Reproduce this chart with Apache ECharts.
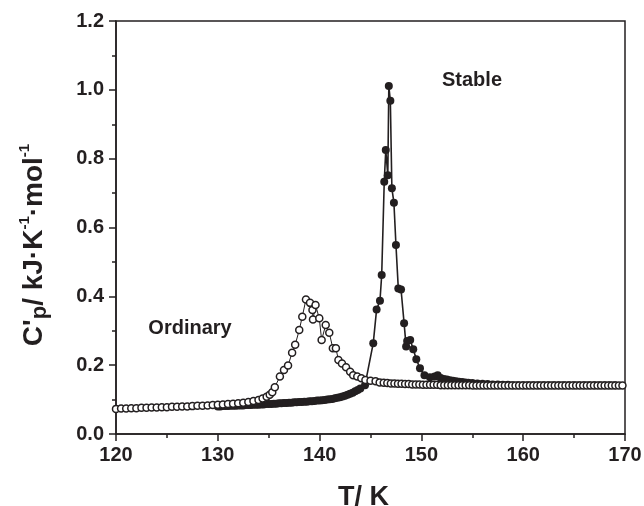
<!DOCTYPE html>
<html><head><meta charset="utf-8">
<script src="https://cdn.jsdelivr.net/npm/echarts@6/dist/echarts.min.js"></script>
<style>html,body{margin:0;padding:0;background:#fff}#c{width:644px;height:506px}</style>
</head><body><div id="c"></div>
<script>
// Ordinary (open circles)
var ordT = [120.0,120.5,121.0,121.5,122.0,122.5,123.0,123.5,124.0,124.5,125.0,125.5,126.0,126.5,127.0,127.5,128.0,128.5,129.0,129.5,130.0,130.5,131.0,131.5,132.0,132.5,133.0,133.5,134.0,134.4,134.8,135.1,135.35,135.6,136.1,136.5,136.9,137.3,137.6,138.0,138.3,138.66,139.06,139.3,139.35,139.6,139.97,140.2,140.6,140.95,141.3,141.6,141.85,142.2,142.6,143.0,143.3,143.7,144.1,144.5,145.0,145.5,145.9,146.3,146.65,147.0,147.35,147.7,148.05,148.4,148.75,149.1,149.45,149.8,150.15,150.5,150.85,151.2,151.55,151.9,152.25,152.6,152.95,153.3,153.65,154.0,154.35,154.7,155.05,155.4,155.75,156.1,156.45,156.8,157.15,157.5,157.85,158.2,158.55,158.9,159.25,159.6,159.95,160.3,160.65,161.0,161.35,161.7,162.05,162.4,162.75,163.1,163.45,163.8,164.15,164.5,164.85,165.2,165.55,165.9,166.25,166.6,166.95,167.3,167.65,168.0,168.35,168.7,169.05,169.4,169.75];
var ordC = [0.073,0.074,0.074,0.075,0.075,0.076,0.076,0.077,0.077,0.078,0.078,0.079,0.079,0.080,0.080,0.081,0.082,0.082,0.083,0.084,0.085,0.086,0.087,0.088,0.089,0.091,0.093,0.096,0.099,0.103,0.108,0.114,0.121,0.136,0.167,0.186,0.199,0.236,0.259,0.302,0.341,0.391,0.381,0.360,0.333,0.375,0.336,0.273,0.317,0.294,0.249,0.249,0.215,0.205,0.194,0.181,0.171,0.167,0.162,0.157,0.155,0.153,0.150,0.149,0.148,0.147,0.147,0.146,0.146,0.145,0.145,0.144,0.144,0.144,0.143,0.143,0.143,0.143,0.143,0.142,0.142,0.142,0.142,0.142,0.142,0.142,0.142,0.142,0.141,0.141,0.141,0.141,0.141,0.141,0.141,0.141,0.141,0.141,0.141,0.141,0.141,0.141,0.141,0.141,0.141,0.141,0.141,0.141,0.141,0.141,0.141,0.141,0.141,0.141,0.141,0.141,0.141,0.141,0.141,0.141,0.141,0.141,0.141,0.141,0.141,0.141,0.141,0.141,0.141,0.141,0.141];
// Stable (filled circles)
var stbT = [130.0,130.25,130.5,130.75,131.0,131.25,131.5,131.75,132.0,132.25,132.5,132.75,133.0,133.25,133.5,133.75,134.0,134.25,134.5,134.75,135.0,135.25,135.5,135.75,136.0,136.25,136.5,136.75,137.0,137.25,137.5,137.75,138.0,138.25,138.5,138.75,139.0,139.25,139.5,139.75,140.0,140.25,140.5,140.75,141.0,141.25,141.5,141.75,142.0,142.25,142.5,142.75,143.0,143.25,143.5,143.75,144.0,144.46,145.27,145.6,145.93,146.1,146.35,146.5,146.7,146.8,146.95,147.1,147.3,147.5,147.73,148.0,148.3,148.5,148.6,148.9,149.2,149.5,149.86,150.3,150.84,151.3,151.6,151.9,152.2,152.5,152.8,153.1,153.4,153.7,154.0,154.3,154.6,155.0,155.5,156.0,156.5,157.0,157.5,158.0,158.5,159.0,159.5,160.0,160.5,161.0,161.5,162.0,162.5,163.0,163.5,164.0,164.5,165.0,165.5,166.0,166.5,167.0,167.5,168.0,168.5,169.0,169.5,170.0];
var stbC = [0.080,0.080,0.081,0.081,0.081,0.082,0.082,0.082,0.083,0.083,0.083,0.084,0.084,0.084,0.085,0.085,0.085,0.086,0.086,0.087,0.087,0.087,0.088,0.088,0.089,0.089,0.090,0.090,0.091,0.091,0.092,0.092,0.093,0.093,0.094,0.094,0.095,0.095,0.096,0.097,0.097,0.098,0.099,0.100,0.101,0.102,0.104,0.105,0.107,0.109,0.111,0.114,0.117,0.120,0.124,0.128,0.132,0.142,0.264,0.362,0.387,0.462,0.733,0.825,0.752,1.011,0.968,0.714,0.672,0.549,0.423,0.420,0.322,0.254,0.270,0.273,0.246,0.217,0.191,0.171,0.165,0.167,0.171,0.163,0.160,0.158,0.156,0.155,0.153,0.152,0.151,0.150,0.149,0.148,0.147,0.146,0.145,0.144,0.144,0.143,0.143,0.142,0.142,0.142,0.142,0.142,0.142,0.142,0.142,0.142,0.142,0.142,0.142,0.142,0.142,0.142,0.142,0.142,0.142,0.142,0.142,0.142];
var xTicks = [120,130,140,150,160,170];
var yTicks = [0.0,0.2,0.4,0.6,0.8,1.0,1.2];
var labels = {stable:'Stable', ordinary:'Ordinary'};

function pairs(a,b){return a.map(function(v,i){return [v,b[i]];});}
var ink = '#231f20';
var font = '"Liberation Sans", Arial, sans-serif';
var chart = echarts.init(document.getElementById('c'), null, {renderer:'canvas'});
chart.setOption({
  animation:false,
  backgroundColor:'#fff',
  grid:{left:116, top:21, right:19, bottom:72, containLabel:false, outerBoundsMode:'none',
        show:true, borderColor:ink, borderWidth:1.5, backgroundColor:'transparent'},
  xAxis:{type:'value', min:xTicks[0], max:xTicks[xTicks.length-1], interval:10,
    axisLine:{onZero:false, lineStyle:{color:ink,width:1.5}},
    axisTick:{show:true, inside:false, length:7, lineStyle:{color:ink,width:1.5}},
    minorTick:{show:true, splitNumber:2, length:4, lineStyle:{color:ink,width:1.5}},
    splitLine:{show:false},
    axisLabel:{color:ink, fontFamily:font, fontWeight:'bold', fontSize:20, margin:11},
    name:'T/ K', nameLocation:'middle', nameGap:50,
    nameTextStyle:{color:ink, fontFamily:font, fontWeight:'bold', fontSize:27, padding:[0,14,0,0]}
  },
  yAxis:{type:'value', min:yTicks[0], max:yTicks[yTicks.length-1], interval:0.2,
    axisLine:{onZero:false, lineStyle:{color:ink,width:1.5}},
    axisTick:{show:true, inside:false, length:7, lineStyle:{color:ink,width:1.5}},
    minorTick:{show:true, splitNumber:2, length:4, lineStyle:{color:ink,width:1.5}},
    splitLine:{show:false},
    axisLabel:{color:ink, fontFamily:font, fontWeight:'bold', fontSize:20, margin:12,
      formatter:function(v){return v.toFixed(1);}}
  },
  graphic:[
    {type:'text', x:34, y:245, rotation:Math.PI/2,
     style:{text:"C'{sub|p}/ kJ·K{sup|-1}·mol{sup|-1}", align:'center', verticalAlign:'middle',
       fill:ink, font:'bold 28px '+font, lineHeight:34,
       rich:{sub:{fontSize:22, fontWeight:'bold', fontFamily:font, fill:ink, verticalAlign:'bottom', lineHeight:16},
             sup:{fontSize:15, fontWeight:'bold', fontFamily:font, fill:ink, verticalAlign:'top', lineHeight:14}}}},
    {type:'text', x:472, y:80, style:{text:labels.stable, align:'center', verticalAlign:'middle', fill:ink, font:'bold 20px '+font}},
    {type:'text', x:190, y:328, style:{text:labels.ordinary, align:'center', verticalAlign:'middle', fill:ink, font:'bold 20px '+font}}
  ],
  series:[
    {name:'Stable', type:'line', data:pairs(stbT,stbC), symbol:'circle', symbolSize:8, showAllSymbol:true,
     itemStyle:{color:ink}, lineStyle:{color:ink,width:1.6}, z:2},
    {name:'Ordinary', type:'line', data:pairs(ordT,ordC), symbol:'circle', symbolSize:7, showAllSymbol:true,
     itemStyle:{color:'#fff', borderColor:ink, borderWidth:1.5}, lineStyle:{color:ink,width:1}, z:3}
  ]
});
</script></body></html>
